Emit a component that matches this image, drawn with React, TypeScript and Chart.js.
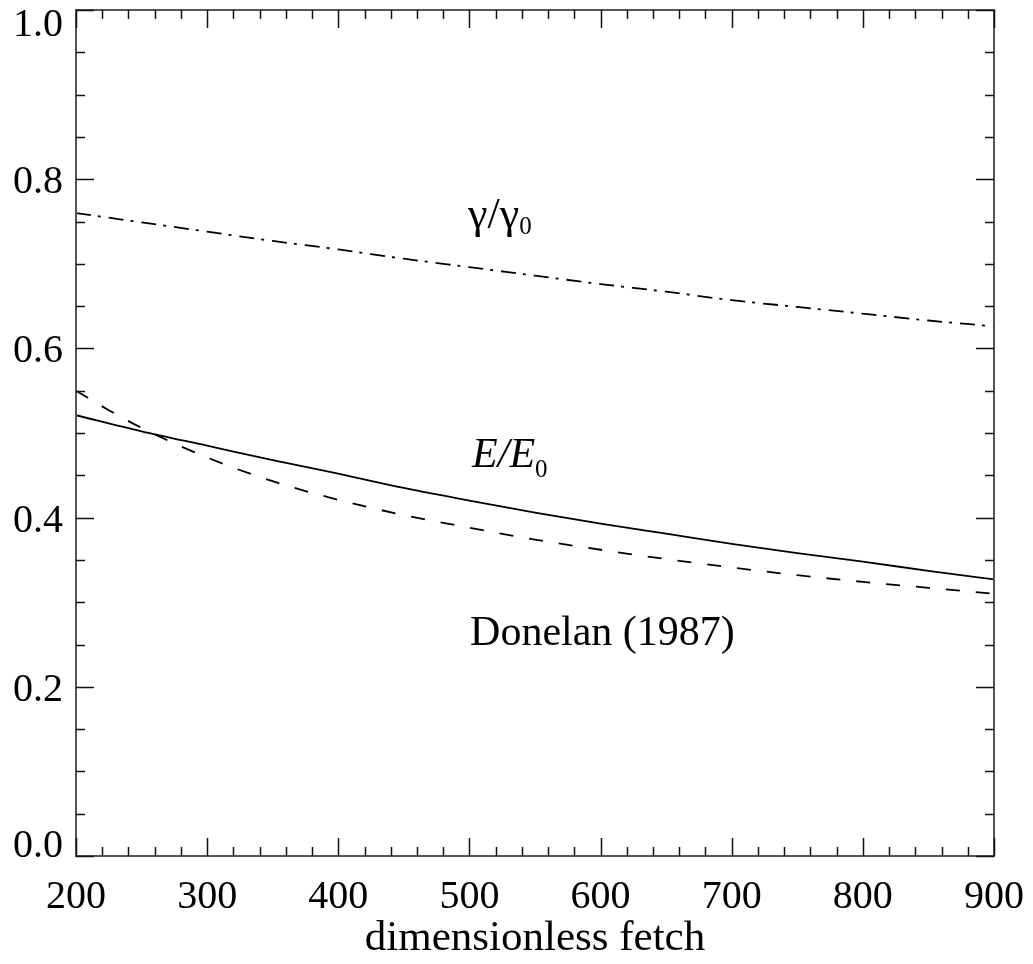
import React, { useEffect, useRef } from "react";
import { Chart, registerables } from "chart.js";

Chart.register(...registerables);

const fetchValues = [200, 250, 300, 350, 400, 450, 500, 550, 600, 650, 700, 750, 800, 850, 900];
const gammaRatio = [0.760, 0.749, 0.738, 0.727, 0.717, 0.706, 0.696, 0.686, 0.676, 0.667, 0.657, 0.649, 0.641, 0.633, 0.626];
const energyRatio = [0.521, 0.502, 0.485, 0.468, 0.452, 0.435, 0.420, 0.406, 0.393, 0.381, 0.369, 0.358, 0.348, 0.337, 0.327];
const donelanFetch = [200, 225, 250, 300, 350, 400, 450, 500, 550, 600, 650, 700, 750, 800, 850, 900];
const donelanValues = [0.550, 0.527, 0.506, 0.471, 0.443, 0.421, 0.403, 0.388, 0.374, 0.362, 0.351, 0.341, 0.332, 0.324, 0.317, 0.310];

const xTicks = [200, 300, 400, 500, 600, 700, 800, 900];
const yTicks = [0.0, 0.2, 0.4, 0.6, 0.8, 1.0];
const yTickLabels = ["0.0", "0.2", "0.4", "0.6", "0.8", "1.0"];
const xTitle = "dimensionless fetch";

const FONT = '"Liberation Serif", "DejaVu Serif", serif';

const framePlugin = {
  id: "idlFrame",
  afterDraw(chart: any) {
    const ctx = chart.ctx as CanvasRenderingContext2D;
    const xs = chart.scales.x;
    const ys = chart.scales.y;
    const { left, right, top, bottom } = chart.chartArea;
    ctx.save();
    ctx.strokeStyle = "#555";
    ctx.lineWidth = 2;
    ctx.strokeRect(left, top, right - left, bottom - top);
    ctx.strokeStyle = "#111";
    ctx.lineWidth = 1.5;
    ctx.beginPath();
    for (let v = 200; v <= 900; v += 20) {
      const px = Math.round(xs.getPixelForValue(v)) + 0.5;
      const major = (v - 200) % 100 === 0;
      const len = major ? 18 : 9;
      ctx.moveTo(px, bottom);
      ctx.lineTo(px, bottom - len);
      ctx.moveTo(px, top);
      ctx.lineTo(px, top + len);
    }
    for (let i = 0; i <= 20; i++) {
      const v = i * 0.05;
      const py = Math.round(ys.getPixelForValue(v)) + 0.5;
      const major = i % 4 === 0;
      const len = major ? 18 : 9;
      ctx.moveTo(left, py);
      ctx.lineTo(left + len, py);
      ctx.moveTo(right, py);
      ctx.lineTo(right - len, py);
    }
    ctx.stroke();

    ctx.fillStyle = "#000";
    ctx.font = `40px ${FONT}`;
    ctx.textAlign = "center";
    ctx.textBaseline = "alphabetic";
    xTicks.forEach((v) => {
      ctx.fillText(String(v), xs.getPixelForValue(v), bottom + 52);
    });
    ctx.textAlign = "right";
    yTicks.forEach((v, i) => {
      const py = ys.getPixelForValue(v);
      let dy = 14;
      if (i === yTicks.length - 1) dy = 26;
      if (i === 0) dy = 1;
      ctx.fillText(yTickLabels[i], left - 13, py + dy);
    });
    ctx.textAlign = "center";
    ctx.font = `43px ${FONT}`;
    ctx.fillText(xTitle, (left + right) / 2, bottom + 94);

    ctx.textAlign = "left";
    let x = xs.getPixelForValue(499);
    let y = ys.getPixelForValue(0.742);
    ctx.font = `44px ${FONT}`;
    ctx.fillText("γ/γ", x, y);
    let w = ctx.measureText("γ/γ").width;
    ctx.font = `25px ${FONT}`;
    ctx.fillText("0", x + w, y + 6);

    x = xs.getPixelForValue(502);
    y = ys.getPixelForValue(0.460);
    ctx.font = `italic 42px ${FONT}`;
    ctx.fillText("E/E", x, y);
    w = ctx.measureText("E/E").width;
    ctx.font = `25px ${FONT}`;
    ctx.fillText("0", x + w, y + 10);

    x = xs.getPixelForValue(500.5);
    y = ys.getPixelForValue(0.249);
    ctx.font = `42px ${FONT}`;
    ctx.fillText("Donelan (1987)", x, y);
    ctx.restore();
  },
};

export default function App() {
  const ref = useRef<HTMLCanvasElement>(null);
  useEffect(() => {
    if (!ref.current) return;
    const toPts = (xs: number[], ys: number[]) => xs.map((x, i) => ({ x, y: ys[i] }));
    const chart = new Chart(ref.current, {
      type: "scatter",
      data: {
        datasets: [
          {
            label: "γ/γ0",
            data: toPts(fetchValues, gammaRatio),
            showLine: true,
            borderColor: "#000",
            borderWidth: 1.8,
            borderDash: [15, 7, 3, 8],
            pointRadius: 0,
            cubicInterpolationMode: "monotone",
          },
          {
            label: "E/E0",
            data: toPts(fetchValues, energyRatio),
            showLine: true,
            borderColor: "#000",
            borderWidth: 1.8,
            pointRadius: 0,
            cubicInterpolationMode: "monotone",
          },
          {
            label: "Donelan (1987)",
            data: toPts(donelanFetch, donelanValues),
            showLine: true,
            borderColor: "#000",
            borderWidth: 1.8,
            borderDash: [14, 16],
            pointRadius: 0,
            cubicInterpolationMode: "monotone",
          },
        ],
      },
      options: {
        animation: false,
        responsive: false,
        devicePixelRatio: 1,
        layout: { padding: { left: 76, top: 10, right: 39, bottom: 108 } },
        plugins: { legend: { display: false }, tooltip: { enabled: false } },
        scales: {
          x: { type: "linear", min: 200, max: 900, display: false },
          y: { type: "linear", min: 0, max: 1, display: false },
        },
      } as any,
      plugins: [framePlugin],
    });
    return () => chart.destroy();
  }, []);
  return (
    <div style={{ position: "absolute", left: 0, top: 0, width: 1033, height: 964, background: "#fff" }}>
      <canvas ref={ref} width={1033} height={964} />
    </div>
  );
}
